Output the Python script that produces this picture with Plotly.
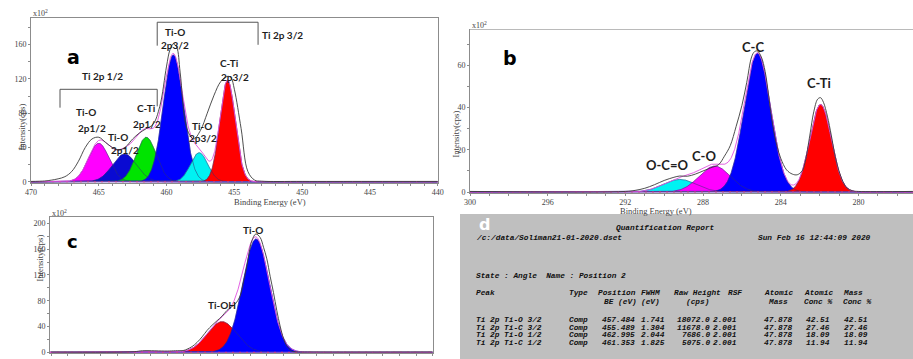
import numpy as np
import plotly.graph_objects as go

W, H = 913, 359

# ---------------- DATA ----------------
# Panel a : Ti 2p
a_xticks = [470, 465, 460, 455, 450, 445, 440]
a_yticks = [0, 40, 80, 120, 160]
a_comp_center = [465.0, 463.1, 461.5, 459.5, 457.6, 455.5]
a_comp_height = [45, 32.5, 52, 148, 34, 118.5]
a_comp_fwhm = [1.8, 2.1, 1.75, 1.74, 1.5, 1.33]
a_raw_be = [470, 469, 468.5, 468, 467.5, 467, 466.5, 466, 465.5, 465, 464.5, 464, 463.5, 463,
            462.5, 462, 461.5, 461, 460.5, 460, 459.75, 459.5, 459.25, 459, 458.5, 458, 457.5,
            457, 456.5, 456, 455.5, 455.25, 455, 454.5, 454, 453.5, 453, 450, 445, 440]
a_raw_int = [0.5, 1, 2, 3.5, 6, 12, 24, 40, 50, 52, 46, 40, 37, 41,
             50, 57, 62, 67, 88, 135, 154, 161, 157, 128, 62, 50, 60,
             80, 101, 117, 123, 121.5, 108, 62, 12, 2, 0.8, 0.5, 0.5, 0.5]
a_labels = ["Ti-O", "2p1/2", "Ti-O", "2p1/2", "C-Ti", "2p1/2",
            "Ti-O", "2p3/2", "Ti-O", "2p3/2", "C-Ti", "2p3/2"]

# Panel b : C 1s
b_xticks = [300, 296, 292, 288, 284, 280]
b_yticks = [0, 20, 40, 60]
b_comp_center = [289.2, 287.4, 285.2, 281.95]
b_comp_height = [6.0, 12.3, 65.7, 41.5]
b_comp_fwhm = [2.0, 1.9, 1.6, 1.3]
b_raw_be = [300, 292, 291.5, 291, 290.5, 290, 289.5, 289.2, 288.8, 288.4, 288, 287.6, 287.2,
            286.9, 286.6, 286.3, 286, 285.75, 285.5, 285.35, 285.2, 285.0, 284.8, 284.6, 284.4,
            284.2, 284.0, 283.7, 283.4, 283.15, 282.9, 282.75, 282.5, 282.3, 282.1, 281.95,
            281.8, 281.6, 281.4, 281.2, 281.0, 280.8, 280.6, 280.3, 280, 277.2]
b_raw_int = [0.3, 0.3, 0.8, 1.8, 3.5, 5.5, 7, 7.6, 7.5, 8.5, 10, 11.5, 13,
             17, 22, 31, 41, 52, 64, 66.5, 66.8, 64, 57, 44, 31,
             22, 16, 10.5, 8.5, 8.2, 10, 14, 27, 38, 44, 44.7,
             42.5, 36, 27, 17, 10, 5, 2, 0.6, 0.3, 0.3]
b_labels = ["C-C", "C-Ti", "C-O", "O-C=O"]

# Panel c : O 1s
c_xticks = [540, 536, 532, 528, 524, 520]
c_yticks = [0, 40, 80, 120, 160, 200]
c_comp_center = [532.7, 530.65]
c_comp_height = [47.6, 175.7]
c_comp_fwhm = [2.1, 1.9]
c_raw_be = [543, 538, 537.5, 536, 535.5, 535, 534.8, 534.5, 534.2, 533.9, 533.6, 533.3, 533,
            532.7, 532.4, 532.1, 531.9, 531.6, 531.4, 531.2, 530.9, 530.66, 530.4, 530.2, 530,
            529.8, 529.6, 529.4, 529.2, 529, 528.8, 528.5, 528.2, 527, 520]
c_raw_int = [0.5, 1, 2.5, 2, 2.5, 3, 5, 9, 15.5, 24, 34, 42, 49,
             56, 65, 71, 75, 88, 110, 134, 173, 183.5, 178, 163, 145,
             118, 93, 65, 41, 22, 10, 2, 0.8, 0.5, 0.5]
c_labels = ["Ti-O", "Ti-OH"]

# Panel d : quantification report
d_title = "Quantification Report"
d_path = "/c:/data/Soliman21-01-2020.dset"
d_date = "Sun Feb 16 12:44:09 2020"
d_state = "State : Angle  Name : Position 2"
d_head1 = ["Peak", "Type", "Position", "FWHM", "Raw Height", "RSF", "Atomic", "Atomic", "Mass"]
d_head2 = ["", "", "BE (eV)", "(eV)", "(cps)", "", "Mass", "Conc %", "Conc %"]
d_peak = ["Ti 2p Ti-O 3/2", "Ti 2p Ti-C 3/2", "Ti 2p Ti-O 1/2", "Ti 2p Ti-C 1/2"]
d_type = ["Comp", "Comp", "Comp", "Comp"]
d_pos = ["457.484", "455.489", "462.995", "461.353"]
d_fwhm = ["1.741", "1.304", "2.044", "1.825"]
d_raw = ["18072.0", "11678.0", "7686.0", "5075.0"]
d_rsf = ["2.001", "2.001", "2.001", "2.001"]
d_amass = ["47.878", "47.878", "47.878", "47.878"]
d_aconc = ["42.51", "27.46", "18.09", "11.94"]
d_mconc = ["42.51", "27.46", "18.09", "11.94"]

# ---------------- STYLE ----------------
a_colors = ["#ff00ff", "#0a0ad2", "#00e400", "#0000ff", "#00f2f2", "#ff0000"]
b_colors = ["#00f2f2", "#ff00ff", "#0000ff", "#ff0000"]
c_colors = ["#ff0000", "#0000ff"]

def fx(px):
    return px / W

def fy(py):
    return 1 - py / H

def gauss(x, c, h, fwhm):
    s = fwhm / 2.3548
    return h * np.exp(-0.5 * ((x - c) / s) ** 2)

fig = go.Figure()

def add_panel(xa, ya, xr, centers, heights, fwhms, colors, raw_x, raw_y):
    grid = np.linspace(xr[0], xr[1], 1500)
    comps = [gauss(grid, c, h, f) for c, h, f in zip(centers, heights, fwhms)]
    for comp, col in zip(comps, colors):
        fig.add_trace(go.Scatter(x=grid, y=comp, mode="lines", fill="tozeroy",
                                 fillcolor=col, line=dict(color=col, width=0.5),
                                 xaxis=xa, yaxis=ya, hoverinfo="skip", showlegend=False))
    for comp in comps:
        fig.add_trace(go.Scatter(x=grid, y=comp, mode="lines",
                                 line=dict(color="rgba(50,50,110,0.85)", width=0.6),
                                 xaxis=xa, yaxis=ya, hoverinfo="skip", showlegend=False))
    fig.add_trace(go.Scatter(x=[xr[0], xr[1]], y=[0, 0], mode="lines",
                             line=dict(color="#7b52c7", width=1.2),
                             xaxis=xa, yaxis=ya, hoverinfo="skip", showlegend=False))
    fig.add_trace(go.Scatter(x=[xr[0], xr[1]], y=[0, 0], mode="lines",
                             line=dict(color="#d04080", width=1, dash="2px,5px"),
                             xaxis=xa, yaxis=ya, hoverinfo="skip", showlegend=False))
    env = np.sum(comps, axis=0)
    fig.add_trace(go.Scatter(x=grid, y=env, mode="lines",
                             line=dict(color="#e050e0", width=0.9),
                             xaxis=xa, yaxis=ya, hoverinfo="skip", showlegend=False))
    fig.add_trace(go.Scatter(x=raw_x, y=raw_y, mode="lines", line_shape="spline",
                             line=dict(color="#3a3a3a", width=0.9),
                             xaxis=xa, yaxis=ya, hoverinfo="skip", showlegend=False))

a_range = [470, 440]
b_range = [300, 277.19]
c_range = [543.07, 520]
add_panel("x", "y", a_range, a_comp_center, a_comp_height, a_comp_fwhm, a_colors, a_raw_be, a_raw_int)
add_panel("x2", "y2", b_range, b_comp_center, b_comp_height, b_comp_fwhm, b_colors, b_raw_be, b_raw_int)
add_panel("x3", "y3", c_range, c_comp_center, c_comp_height, c_comp_fwhm, c_colors, c_raw_be, c_raw_int)

axcol = "#8c8c8c"
tickfont = dict(family="Liberation Serif", size=8, color="#444")

def ax(domain, rng, tickvals, anchor, mirror, minor_dtick):
    return dict(domain=domain, range=rng, tickvals=tickvals, anchor=anchor, automargin=False,
                showline=True, linecolor=axcol, linewidth=1, mirror=mirror,
                ticks="outside", ticklen=2, tickcolor=axcol, tickwidth=1,
                tickfont=tickfont, showgrid=False, zeroline=False,
                minor=dict(ticks="outside", ticklen=2, tickcolor=axcol, dtick=minor_dtick))

layout = dict(
    width=W, height=H, margin=dict(l=0, r=0, t=0, b=0, autoexpand=False),
    paper_bgcolor="white", plot_bgcolor="white", showlegend=False,
    xaxis=ax([fx(31), fx(437.7)], a_range, a_xticks, "y", True, 1),
    yaxis=ax([fy(182.7), fy(18.3)], [-1, 190.7], a_yticks, "x", True, 20),
    xaxis2=ax([fx(470), 1.0], b_range, b_xticks, "y2", False, 1),
    yaxis2=ax([fy(192.7), fy(29.3)], [-0.3, 77.1], b_yticks, "x2", False, 10),
    xaxis3=ax([fx(50), fx(432.7)], c_range, c_xticks, "y3", True, 1),
    yaxis3=ax([fy(353.3), fy(216.7)], [-1.5, 210.3], c_yticks, "x3", True, 20),
)
fig.update_layout(**layout)

shapes = []
# top border of panel b
shapes.append(dict(type="line", xref="x2", yref="y2", x0=b_range[0], x1=b_range[1], y0=77.1, y1=77.1,
                   line=dict(color=axcol, width=1)))
# brackets panel a
brk = dict(color="#555", width=1)
for (x0, y0, x1, y1) in [(467.86, 107.9, 460.69, 107.9), (467.86, 107.9, 467.86, 86.5),
                         (460.69, 107.9, 460.69, 88.0),
                         (460.69, 186.1, 453.25, 186.1), (460.69, 186.1, 460.69, 158.8),
                         (453.25, 186.1, 453.25, 159.8)]:
    shapes.append(dict(type="line", xref="x", yref="y", x0=x0, y0=y0, x1=x1, y1=y1, line=brk))
# panel d background
shapes.append(dict(type="rect", xref="paper", yref="paper", x0=fx(460), x1=1.0, y0=0, y1=fy(214),
                   fillcolor="#bfbfbf", line=dict(width=0)))
fig.update_layout(shapes=shapes)

ann = []
lblfont = dict(family="Lato", size=10, color="#1e1e1e", weight="bold")
a_lbl_pos = [(465.95, 81.4), (465.5, 62.8), (463.6, 52.3), (463.07, 37), (461.45, 86.1), (461.45, 67.5),
             (459.39, 174.7), (459.39, 159.6), (457.4, 65.1), (457.33, 51.1), (455.34, 138.6), (454.97, 122.3)]
for t, (x, y) in zip(a_labels, a_lbl_pos):
    ann.append(dict(text=t, x=x, y=y, xref="x", yref="y", showarrow=False, font=lblfont, borderpad=0))
ann.append(dict(text="Ti 2p 1/2", x=464.7, y=123.4, xref="x", yref="y", showarrow=False, font=lblfont))
ann.append(dict(text="Ti 2p 3/2", x=451.43, y=171.2, xref="x", yref="y", showarrow=False, font=lblfont))

b_lbl_pos = [(285.43, 68.9), (282.03, 51.8), (287.95, 17.1), (289.86, 12.8)]
for t, (x, y) in zip(b_labels, b_lbl_pos):
    ann.append(dict(text=t, x=x, y=y, xref="x2", yref="y2", showarrow=False,
                    font=dict(family="Lato", size=13, color="#1e1e1e", weight="bold")))
c_lbl_pos = [(530.84, 189.8), (532.71, 73.4)]
for t, (x, y) in zip(c_labels, c_lbl_pos):
    ann.append(dict(text=t, x=x, y=y, xref="x3", yref="y3", showarrow=False, font=lblfont))

letterfont = dict(family="DejaVu Sans", size=19, color="black", weight="bold")
ann.append(dict(text="a", x=466.9, y=145.6, xref="x", yref="y", showarrow=False, font=letterfont))
ann.append(dict(text="b", x=297.94, y=63.5, xref="x2", yref="y2", showarrow=False, font=letterfont))
ann.append(dict(text="c", x=541.74, y=171.5, xref="x3", yref="y3", showarrow=False,
                font=dict(family="DejaVu Sans", size=18, color="black", weight="bold")))

serif = dict(family="Liberation Serif", size=8, color="#444")
for (px, py) in [(31, 13), (470, 25), (50, 213)]:
    ann.append(dict(text="x10<sup>2</sup>", x=fx(px), y=fy(py), xref="paper", yref="paper",
                    xanchor="left", yanchor="middle", showarrow=False, font=serif))
for (px, py) in [(15, 103), (455, 110), (33, 283)]:
    ann.append(dict(text="Intensity(cps)", x=fx(px), y=fy(py), xref="paper", yref="paper",
                    textangle=-90, showarrow=False, borderpad=0,
                    font=dict(family="Liberation Serif", size=8.5, color="#444")))
for (px, py) in [(233, 201.5), (693, 211)]:
    ann.append(dict(text="Binding Energy (eV)", x=fx(px), y=fy(py), xref="paper", yref="paper",
                    showarrow=False, borderpad=0,
                    font=dict(family="Liberation Serif", size=8.5, color="#444")))

# panel d text
mono = dict(family="Liberation Mono", size=7.8, color="#101010")
def dtxt(t, px, py, anchor="left"):
    ann.append(dict(text="<b><i>" + t + "</i></b>", x=fx(px), y=fy(py), xref="paper", yref="paper",
                    xanchor=anchor, yanchor="middle", showarrow=False, font=mono, borderpad=0))

ann.append(dict(text="d", x=fx(485), y=fy(224), xref="paper", yref="paper", showarrow=False,
                font=dict(family="DejaVu Sans", size=16, color="white", weight="bold")))
dtxt(d_title, 665, 228.3, "center")
dtxt(d_path, 475, 238.3)
dtxt(d_date, 757, 238.3)
dtxt(d_state, 475, 275.7)
cols = [475, 568, 601, 640, 710.5, 712, 763, 805, 843]
anchors = ["left", "left", "left", "left", "right", "left", "left", "left", "left"]
head_cols = [475, 568, 597, 640, 673, 727, 763, 803, 842]
for t, px in zip(d_head1, head_cols):
    dtxt(t, px, 292.7)
head2_cols = [475, 568, 603, 640, 685, 727, 767, 803, 842]
for t, px in zip(d_head2, head2_cols):
    if t:
        dtxt(t, px, 301.7)
row_y = [320, 327.7, 335, 342.7]
for i in range(len(d_peak)):
    row = [d_peak[i], d_type[i], d_pos[i], d_fwhm[i], d_raw[i], d_rsf[i], d_amass[i], d_aconc[i], d_mconc[i]]
    for t, px, an in zip(row, cols, anchors):
        dtxt(t, px, row_y[i], an)

fig.update_layout(annotations=ann)
fig.write_html("out.html")
